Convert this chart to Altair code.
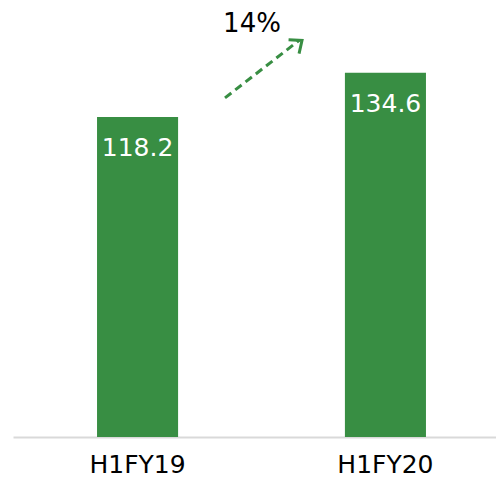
import altair as alt
import pandas as pd

categories = ["H1FY19", "H1FY20"]
values = [118.2, 134.6]
value_labels = ["118.2", "134.6"]
growth_label = "14%"
arrow_y = [125.3, 146.5]  # data units: start, end

GREEN = "#388e43"
FONT = "DejaVu Sans"

df = pd.DataFrame({"cat": categories, "val": values, "lbl": value_labels})

x = alt.X("cat:N", sort=categories,
          scale=alt.Scale(range=[0, 497], paddingInner=0.673, paddingOuter=0.339),
          axis=alt.Axis(title=None, labelAngle=0, labelFontSize=25, labelFont=FONT,
                        labelColor="#000000", labelPadding=15, ticks=False,
                        domainColor="#d9d9d9", domainWidth=2))
y = alt.Y("val:Q", scale=alt.Scale(domain=[0, 158.5], nice=False, zero=True), axis=None)

bars = alt.Chart(df).mark_bar(color=GREEN).encode(x=x, y=y)
labels = alt.Chart(df).mark_text(color="white", fontSize=25, font=FONT,
                                 baseline="alphabetic", dy=39).encode(x=x, y=y, text="lbl:N")

ann = pd.DataFrame({"y": [arrow_y[0]], "y2": [arrow_y[1]], "t": [growth_label], "ty": [152.6]})
line = alt.Chart(ann).mark_rule(color=GREEN, strokeWidth=3, strokeDash=[8, 5]).encode(
    x=alt.value(212), x2=alt.value(286), y="y:Q", y2="y2:Q")
head = alt.Chart(ann).mark_point(shape="M-1,-0.85L0,0L-1,0.85", filled=False, color=GREEN,
                                 strokeWidth=3, size=420, angle=323, opacity=1).encode(
    x=alt.value(289), y=alt.Y("y2:Q"))
txt = alt.Chart(ann).mark_text(fontSize=26, font=FONT, color="black", baseline="middle").encode(
    x=alt.value(239), y=alt.Y("ty:Q"), text="t:N")

chart = alt.layer(bars, labels, line, head, txt).properties(
    width=483, height=429,
    autosize=alt.AutoSizeParams(type="none"),
    padding={"left": 5, "top": 0, "right": 0, "bottom": 41},
).configure_view(stroke=None)

chart.save("out.html", embed_options={"renderer": "svg", "actions": False})
